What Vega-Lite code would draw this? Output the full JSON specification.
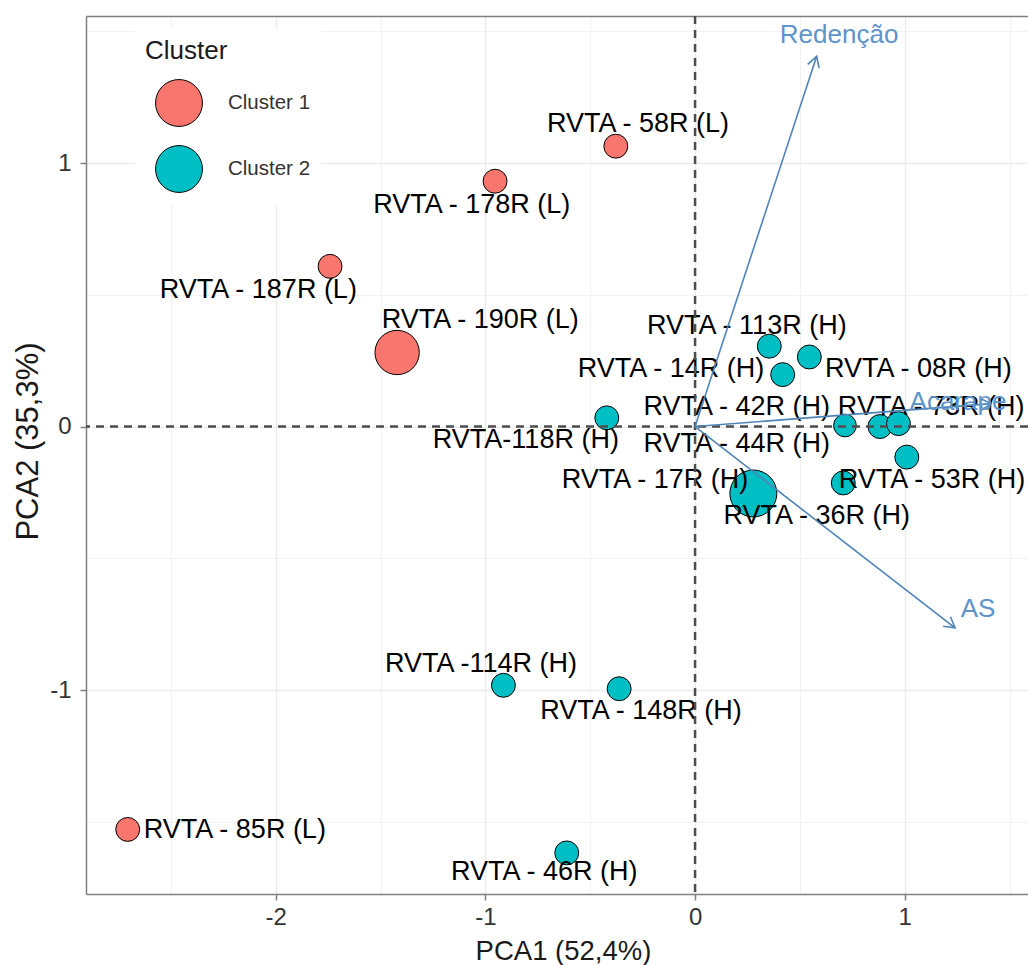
{
  "$schema": "https://vega.github.io/schema/vega-lite/v6.json",
  "width": 942,
  "height": 878,
  "autosize": {"type": "none"},
  "padding": {"left": 86, "top": 16, "right": 0, "bottom": 71},
  "background": "white",
  "config": {
    "font": "Liberation Sans",
    "view": {"stroke": null}
  },
  "datasets": {
    "pontos": [
      {"genotipo": "RVTA - 58R (L)", "cluster": "Cluster 1", "PC1": -0.378, "PC2": 1.064, "peso": 1, "lx": -0.272, "ly": 1.150},
      {"genotipo": "RVTA - 178R (L)", "cluster": "Cluster 1", "PC1": -0.954, "PC2": 0.931, "peso": 1, "lx": -1.065, "ly": 0.840},
      {"genotipo": "RVTA - 187R (L)", "cluster": "Cluster 1", "PC1": -1.741, "PC2": 0.608, "peso": 1, "lx": -2.083, "ly": 0.517},
      {"genotipo": "RVTA - 190R (L)", "cluster": "Cluster 1", "PC1": -1.421, "PC2": 0.281, "peso": 3.43, "lx": -1.025, "ly": 0.406},
      {"genotipo": "RVTA - 85R (L)", "cluster": "Cluster 1", "PC1": -2.706, "PC2": -1.529, "peso": 1, "lx": -2.195, "ly": -1.533},
      {"genotipo": "RVTA - 113R (H)", "cluster": "Cluster 2", "PC1": 0.354, "PC2": 0.305, "peso": 1, "lx": 0.247, "ly": 0.381},
      {"genotipo": "RVTA - 14R (H)", "cluster": "Cluster 2", "PC1": 0.418, "PC2": 0.197, "peso": 1, "lx": -0.115, "ly": 0.220},
      {"genotipo": "RVTA - 08R (H)", "cluster": "Cluster 2", "PC1": 0.545, "PC2": 0.264, "peso": 1, "lx": 1.065, "ly": 0.220},
      {"genotipo": "RVTA - 42R (H)", "cluster": "Cluster 2", "PC1": 0.715, "PC2": 0.004, "peso": 0.9, "lx": 0.199, "ly": 0.075},
      {"genotipo": "RVTA - 44R (H)", "cluster": "Cluster 2", "PC1": 0.882, "PC2": 0.000, "peso": 1, "lx": 0.199, "ly": -0.065},
      {"genotipo": "RVTA - 73R (H)", "cluster": "Cluster 2", "PC1": 0.970, "PC2": 0.011, "peso": 1, "lx": 1.126, "ly": 0.075},
      {"genotipo": "RVTA-118R (H)", "cluster": "Cluster 2", "PC1": -0.421, "PC2": 0.033, "peso": 1, "lx": -0.807, "ly": -0.052},
      {"genotipo": "RVTA - 53R (H)", "cluster": "Cluster 2", "PC1": 1.010, "PC2": -0.116, "peso": 1, "lx": 1.130, "ly": -0.204},
      {"genotipo": "RVTA - 36R (H)", "cluster": "Cluster 2", "PC1": 0.707, "PC2": -0.214, "peso": 1, "lx": 0.580, "ly": -0.340},
      {"genotipo": "RVTA - 17R (H)", "cluster": "Cluster 2", "PC1": 0.278, "PC2": -0.254, "peso": 3.85, "lx": -0.191, "ly": -0.204},
      {"genotipo": "RVTA -114R (H)", "cluster": "Cluster 2", "PC1": -0.914, "PC2": -0.982, "peso": 1, "lx": -1.021, "ly": -0.903},
      {"genotipo": "RVTA - 148R (H)", "cluster": "Cluster 2", "PC1": -0.362, "PC2": -0.995, "peso": 1, "lx": -0.258, "ly": -1.080},
      {"genotipo": "RVTA - 46R (H)", "cluster": "Cluster 2", "PC1": -0.612, "PC2": -1.618, "peso": 1, "lx": -0.719, "ly": -1.691}
    ],
    "setas": [
      {"variavel": "Redenção", "PC1": 0.580, "PC2": 1.405, "lx": 0.687, "ly": 1.484},
      {"variavel": "AS", "PC1": 1.240, "PC2": -0.764, "lx": 1.350, "ly": -0.691},
      {"variavel": "Acarape", "PC1": 1.412, "PC2": 0.087, "lx": 1.254, "ly": 0.095}
    ]
  },
  "resolve": {"axis": {"x": "independent", "y": "independent"}},
  "layer": [
    {
      "data": {"name": "pontos"},
      "mark": {"type": "point", "filled": true, "stroke": "black", "strokeWidth": 1, "opacity": 1},
      "encoding": {
        "x": {
          "field": "PC1", "type": "quantitative",
          "scale": {"domain": [-2.905, 1.588], "nice": false, "zero": false},
          "axis": {
            "orient": "bottom", "values": [-2, -1, 0, 1], "grid": true, "gridColor": "#EBEBEB", "gridWidth": 1.4,
            "domain": true, "domainColor": "#7F7F7F", "domainWidth": 1.5,
            "ticks": true, "tickColor": "#7F7F7F", "tickSize": 6, "tickWidth": 1.5,
            "labelFontSize": 24, "labelColor": "#333333", "labelPadding": 5, "labelExpr": "'' + datum.value",
            "labelFlush": false, "labelOverlap": false,
            "title": "PCA1 (52,4%)", "titleFontSize": 27.5, "titleFontWeight": "normal", "titleColor": "#1A1A1A",
            "titleX": 477, "titleY": 57, "titleBaseline": "middle", "titleAlign": "center"
          }
        },
        "y": {
          "field": "PC2", "type": "quantitative",
          "scale": {"domain": [-1.774, 1.558], "nice": false, "zero": false},
          "axis": {
            "orient": "left", "values": [-1, 0, 1], "grid": true, "gridColor": "#EBEBEB", "gridWidth": 1.4,
            "domain": true, "domainColor": "#7F7F7F", "domainWidth": 1.5,
            "ticks": true, "tickColor": "#7F7F7F", "tickSize": 6, "tickWidth": 1.5,
            "labelFontSize": 24, "labelColor": "#333333", "labelPadding": 9, "labelExpr": "'' + datum.value",
            "labelFlush": false, "labelOverlap": false,
            "title": "PCA2 (35,3%)", "titleFontSize": 31, "titleFontWeight": "normal", "titleColor": "#1A1A1A",
            "titleAngle": 270, "titleX": -58, "titleY": 425, "titleBaseline": "middle", "titleAlign": "center"
          }
        },
        "color": {
          "field": "cluster", "type": "nominal",
          "scale": {"domain": ["Cluster 1", "Cluster 2"], "range": ["#F8766D", "#00BFC4"]},
          "legend": {
            "title": "Cluster", "orient": "none", "legendX": 49, "legendY": 12,
            "padding": 10, "fillColor": "white",
            "titleFontSize": 26, "titleFontWeight": "normal", "titleColor": "#1A1A1A", "titlePadding": 15,
            "symbolType": "circle", "symbolSize": 2200, "symbolStrokeColor": "black", "symbolStrokeWidth": 1,
            "symbolOpacity": 1, "symbolOffset": 10,
            "labelFontSize": 20.5, "labelColor": "#333333", "labelOffset": 25, "rowPadding": 14
          }
        },
        "size": {
          "field": "peso", "type": "quantitative",
          "scale": {"domain": [0, 4], "range": [0, 2290]},
          "legend": null
        }
      }
    },
    {
      "data": {"name": "pontos"},
      "mark": {"type": "text", "fontSize": 27, "color": "#000000", "align": "center", "baseline": "middle"},
      "encoding": {
        "x": {
          "field": "lx", "type": "quantitative",
          "axis": {
            "orient": "top", "values": [-2.5, -1.5, -0.5, 0.5, 1.5], "grid": true, "gridColor": "#F2F2F2", "gridWidth": 1.2,
            "labels": false, "ticks": false, "domain": true, "domainColor": "#7F7F7F", "domainWidth": 1.5, "title": null
          }
        },
        "y": {
          "field": "ly", "type": "quantitative",
          "axis": {
            "orient": "right", "values": [-1.5, -0.5, 0.5, 1.5], "grid": true, "gridColor": "#F2F2F2", "gridWidth": 1.2,
            "labels": false, "ticks": false, "domain": false, "title": null
          }
        },
        "text": {"field": "genotipo"}
      }
    },
    {
      "data": {"values": [{"zero": 0}]},
      "mark": {"type": "rule", "strokeDash": [8, 6], "strokeWidth": 2.5, "color": "#4D4D4D"},
      "encoding": {"x": {"field": "zero", "type": "quantitative", "axis": null}}
    },
    {
      "data": {"values": [{"zero": 0}]},
      "mark": {"type": "rule", "strokeDash": [8, 6], "strokeWidth": 2.5, "color": "#4D4D4D"},
      "encoding": {"y": {"field": "zero", "type": "quantitative", "axis": null}}
    },
    {
      "data": {"name": "setas"},
      "mark": {"type": "rule", "strokeWidth": 1.6, "color": "#4F84B8"},
      "encoding": {
        "x": {"field": "PC1", "type": "quantitative", "axis": null},
        "y": {"field": "PC2", "type": "quantitative", "axis": null},
        "x2": {"datum": 0},
        "y2": {"datum": 0}
      }
    },
    {
      "data": {"name": "setas"},
      "transform": [{"calculate": "atan2(datum.PC1 * 209.66, datum.PC2 * 263.5) * 180 / PI", "as": "ang"}],
      "mark": {"type": "point", "shape": "M -0.577 1 L 0 0 L 0.577 1", "filled": false, "size": 433, "strokeWidth": 1.6, "color": "#4F84B8", "opacity": 1},
      "encoding": {
        "x": {"field": "PC1", "type": "quantitative", "axis": null},
        "y": {"field": "PC2", "type": "quantitative", "axis": null},
        "angle": {"field": "ang", "type": "quantitative", "scale": null}
      }
    },
    {
      "data": {"name": "setas"},
      "mark": {"type": "text", "fontSize": 26, "color": "#5E93CB", "align": "center", "baseline": "middle"},
      "encoding": {
        "x": {"field": "lx", "type": "quantitative", "axis": null},
        "y": {"field": "ly", "type": "quantitative", "axis": null},
        "text": {"field": "variavel"}
      }
    }
  ]
}
